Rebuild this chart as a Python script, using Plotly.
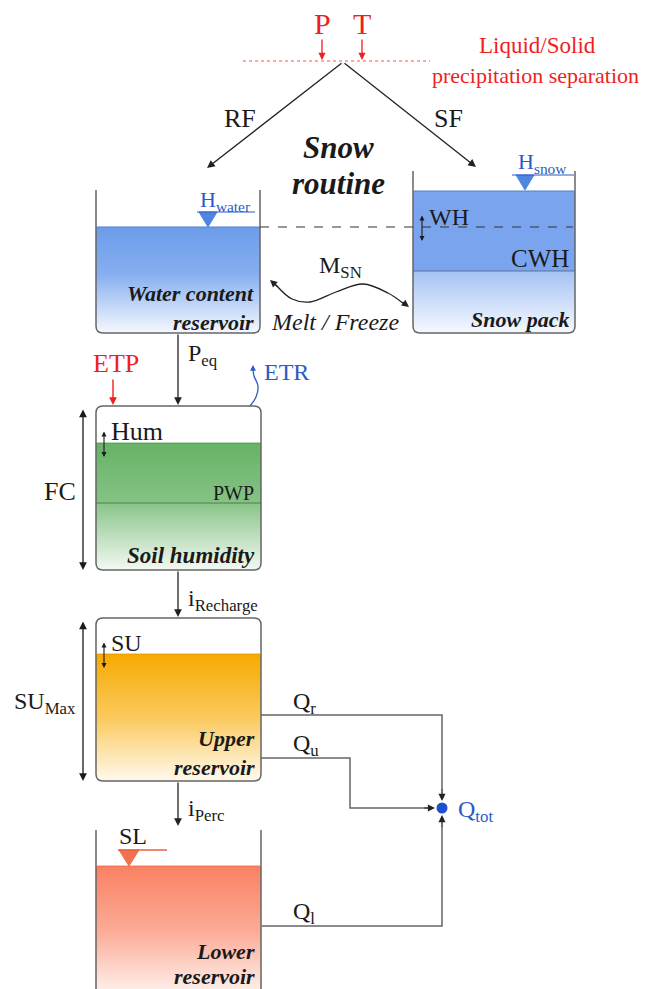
import plotly.graph_objects as go

# ---------------- content (text only) ----------------
forcing_labels = ["P", "T"]
separation_text = ["Liquid/Solid", "precipitation separation"]
phase_labels = ["RF", "SF"]
routine_title = ["Snow", "routine"]
water_names = ["Water content", "reservoir"]
snow_names = ["Snow pack"]
soil_names = ["Soil humidity"]
upper_names = ["Upper", "reservoir"]
lower_names = ["Lower", "reservoir"]
level_labels = ["H<sub>water</sub>", "H<sub>snow</sub>", "WH", "CWH", "Hum", "PWP", "SU", "SL"]
capacity_labels = ["FC", "SU<sub>Max</sub>"]
flux_labels = ["M<sub>SN</sub>", "Melt / Freeze", "P<sub>eq</sub>", "ETP", "ETR",
               "i<sub>Recharge</sub>", "i<sub>Perc</sub>", "Q<sub>r</sub>", "Q<sub>u</sub>",
               "Q<sub>l</sub>", "Q<sub>tot</sub>"]

W, H = 649, 989
OFF = 8  # page body margin
FONT = "Times New Roman"
BLACK = "#1a1a1a"
RED = "#f01e1e"
BLUE = "#2a5bc8"
GREY = "#666666"

fig = go.Figure()
shapes = []


def label(x, y, text, size=24, color=BLACK, xanchor="center", yanchor="middle"):
    fig.add_annotation(x=x, y=y, text=text, showarrow=False, xref="x", yref="y",
                       font=dict(family=FONT, size=size, color=color),
                       xanchor=xanchor, yanchor=yanchor)


def arrow(x, y, ax, ay, color=BLACK, width=1.3, side="end", size=1.1):
    fig.add_annotation(x=x, y=y, ax=ax, ay=ay, xref="x", yref="y", axref="x", ayref="y",
                       text="", showarrow=True, arrowhead=2, arrowsize=size, arrowwidth=width,
                       arrowcolor=color, arrowside=side, startarrowhead=2, startarrowsize=size,
                       standoff=0, startstandoff=0)


def line(x0, y0, x1, y1, color=GREY, width=1.5, dash="solid"):
    shapes.append(dict(type="line", x0=x0, y0=y0, x1=x1, y1=y1, xref="x", yref="y",
                       line=dict(color=color, width=width, dash=dash)))


def path(d, color=GREY, width=1.5, fill=None):
    s = dict(type="path", path=d, xref="x", yref="y", line=dict(color=color, width=width))
    if fill:
        s["fillcolor"] = fill
    shapes.append(s)


def gradient_fill(x0, x1, yt, yb, scale, r=6):
    import math
    xs = [x0, x1]
    ys = [yt, yt]
    for k in range(0, 7):
        a = k / 6 * math.pi / 2
        xs.append(x1 - r + r * math.cos(a))
        ys.append(yb - r + r * math.sin(a))
    for k in range(0, 7):
        a = math.pi / 2 + k / 6 * math.pi / 2
        xs.append(x0 + r + r * math.cos(a))
        ys.append(yb - r + r * math.sin(a))
    xs.append(x0)
    ys.append(yt)
    fig.add_trace(go.Scatter(x=xs, y=ys, mode="lines", fill="toself", line=dict(width=0),
                             fillgradient=dict(type="vertical", colorscale=scale, start=yt, stop=yb),
                             hoverinfo="skip", showlegend=False))


def open_box(x0, x1, yt, yb, r=7):
    path(f"M {x0},{yt} L {x0},{yb - r} Q {x0},{yb} {x0 + r},{yb} L {x1 - r},{yb} "
         f"Q {x1},{yb} {x1},{yb - r} L {x1},{yt}")


def closed_box(x0, x1, yt, yb, r=7):
    path(f"M {x0 + r},{yt} L {x1 - r},{yt} Q {x1},{yt} {x1},{yt + r} L {x1},{yb - r} "
         f"Q {x1},{yb} {x1 - r},{yb} L {x0 + r},{yb} Q {x0},{yb} {x0},{yb - r} "
         f"L {x0},{yt + r} Q {x0},{yt} {x0 + r},{yt} Z")


def level_marker(xc, ytop, color, half=9, depth=15):
    path(f"M {xc - half},{ytop} L {xc + half},{ytop} L {xc},{ytop + depth} Z",
         color=color, width=1, fill=color)


# ---------------- fills ----------------
gradient_fill(96, 260, 227, 333, [[0, "#6c9cea"], [0.45, "#87aff0"], [1, "#f6f9fe"]])
fig.add_trace(go.Scatter(x=[413, 575, 575, 413, 413], y=[191, 191, 271, 271, 191], mode="lines",
                         fill="toself", fillcolor="#7aa5ee", line=dict(width=0),
                         hoverinfo="skip", showlegend=False))
gradient_fill(413, 575, 271, 333, [[0, "#a4c2f4"], [1, "#f6f9fe"]])
gradient_fill(96, 261, 443, 570, [[0, "#66b366"], [0.45, "#84c284"], [1, "#f3f9f3"]])
gradient_fill(96, 261, 654, 781, [[0, "#f6aa00"], [0.5, "#fbc95c"], [1, "#fff9ee"]])
gradient_fill(96, 261, 866, 996, [[0, "#fa8163"], [0.5, "#fbab96"], [1, "#fff4f1"]])

# ---------------- boxes ----------------
open_box(96, 260, 190, 333)
open_box(413, 575, 171, 333)
closed_box(96, 261, 406, 570)
closed_box(96, 261, 618, 781)
open_box(96, 261, 830, 996)

line(96, 227, 260, 227, color="#4f7fd6", width=1)
line(413, 191, 575, 191, color="#4f7fd6", width=1)
line(413, 271, 575, 271, color="#5a6c8a", width=0.9)
line(96, 443, 261, 443, color="#4d944d", width=0.8)
line(96, 503, 261, 503, color="#3f6a3f", width=0.8)
line(96, 654, 261, 654, color="#e09a00", width=0.8)
line(96, 866, 261, 866, color="#e86848", width=0.8)
line(260, 227, 573, 227, color="#333333", width=1.2, dash="dash")

# ---------------- top: separation ----------------
line(243, 61, 430, 61, color="#ff5050", width=1.2, dash="dot")
label(322, 23, forcing_labels[0], size=30, color=RED)
label(362, 23, forcing_labels[1], size=30, color=RED)
arrow(322, 60, 322, 38, color=RED, width=1.3)
arrow(362, 60, 362, 38, color=RED, width=1.3)
label(537, 45, separation_text[0], size=23, color=RED)
label(535, 75, separation_text[1], size=22, color=RED)
arrow(207, 168, 343, 62, color="#222222", width=1.3, size=1.2)
arrow(476, 167, 343, 62, color="#222222", width=1.3, size=1.2)
label(240, 118, phase_labels[0], size=26)
label(448, 118, phase_labels[1], size=26)
label(338, 147, "<b><i>" + routine_title[0] + "</i></b>", size=31)
label(338, 183, "<b><i>" + routine_title[1] + "</i></b>", size=31)

level_marker(208, 212, "#4f86e0")
line(197, 212, 255, 212, color=BLUE, width=1.2)
label(225, 201, level_labels[0], size=22, color=BLUE)
level_marker(525, 175, "#4f86e0")
line(512, 175, 574, 175, color=BLUE, width=1.2)
label(542, 163, level_labels[1], size=22, color=BLUE)

arrow(422, 241, 422, 214, width=1.1, side="end+start", size=0.9)
label(427, 217, level_labels[2], size=24, xanchor="left")
label(571, 258, level_labels[3], size=25, xanchor="right")
label(571, 319, "<b><i>" + snow_names[0] + "</i></b>", size=22, xanchor="right")

label(256, 293, "<b><i>" + water_names[0] + "</i></b>", size=22, xanchor="right")
label(256, 322, "<b><i>" + water_names[1] + "</i></b>", size=22, xanchor="right")

fig.add_trace(go.Scatter(x=[276, 292, 310, 336, 363, 388, 404], y=[285, 299, 302, 292, 284, 293, 304],
                         mode="lines", line=dict(color="#222222", width=1.3, shape="spline"),
                         hoverinfo="skip", showlegend=False))
arrow(270, 280, 279, 288, color="#222222", width=1.3)
arrow(409, 307, 401, 301, color="#222222", width=1.3)
label(340, 267, flux_labels[0], size=24)
label(335, 322, "<i>" + flux_labels[1] + "</i>", size=24)

arrow(178, 405, 178, 333, color="#222222", width=1.3, size=1.2)
label(186, 355, flux_labels[2], size=24, xanchor="left")
label(116, 363, flux_labels[3], size=26, color=RED)
arrow(113, 405, 113, 378, color=RED, width=1.4)
fig.add_trace(go.Scatter(x=[250, 256, 258, 254, 253], y=[406, 397, 386, 376, 370],
                         mode="lines", line=dict(color=BLUE, width=1.3, shape="spline"),
                         hoverinfo="skip", showlegend=False))
arrow(253, 365, 253, 372, color=BLUE, width=1.3, size=0.9)
label(262, 372, flux_labels[4], size=24, color=BLUE, xanchor="left")

arrow(104, 457, 104, 430, width=1.1, side="end+start", size=0.9)
label(109, 431, level_labels[4], size=26, xanchor="left")
label(256, 493, level_labels[5], size=20, xanchor="right")
label(257, 555, "<b><i>" + soil_names[0] + "</i></b>", size=23, xanchor="right")
arrow(83, 570, 83, 408, width=1.3, side="end+start", size=1.2)
label(60, 491, capacity_labels[0], size=26)

arrow(178, 617, 178, 570, color="#222222", width=1.3, size=1.2)
label(186, 600, flux_labels[5], size=24, xanchor="left")

arrow(104, 668, 104, 641, width=1.1, side="end+start", size=0.9)
label(109, 643, level_labels[6], size=24, xanchor="left")
arrow(83, 781, 83, 620, width=1.3, side="end+start", size=1.2)
label(45, 703, capacity_labels[1], size=24)
label(257, 738, "<b><i>" + upper_names[0] + "</i></b>", size=22, xanchor="right")
label(257, 767, "<b><i>" + upper_names[1] + "</i></b>", size=22, xanchor="right")

arrow(178, 826, 178, 781, color="#222222", width=1.3, size=1.2)
label(186, 810, flux_labels[6], size=24, xanchor="left")

level_marker(129, 850, "#f07050", half=10, depth=16)
line(118, 850, 167, 850, color="#e8603f", width=1.3)
label(117, 836, level_labels[7], size=24, xanchor="left")
label(257, 951, "<b><i>" + lower_names[0] + "</i></b>", size=22, xanchor="right")
label(257, 976, "<b><i>" + lower_names[1] + "</i></b>", size=22, xanchor="right")

path("M 261,715 L 442,715 L 442,790", color=GREY, width=1.5)
arrow(442, 801, 442, 788, color="#222222", width=1.3)
path("M 261,758 L 350,758 L 350,808 L 425,808", color=GREY, width=1.5)
arrow(435, 808, 423, 808, color="#222222", width=1.3)
path("M 262,926 L 442,926 L 442,826", color=GREY, width=1.5)
arrow(442, 815, 442, 828, color="#222222", width=1.3)
label(291, 703, flux_labels[7], size=24, xanchor="left")
label(291, 745, flux_labels[8], size=24, xanchor="left")
label(291, 913, flux_labels[9], size=24, xanchor="left")
fig.add_trace(go.Scatter(x=[442], y=[808], mode="markers",
                         marker=dict(size=11, color="#1f4fd0"), hoverinfo="skip", showlegend=False))
label(456, 811, flux_labels[10], size=24, color=BLUE, xanchor="left")

fig.update_layout(
    width=W - OFF, height=H - OFF, margin=dict(l=0, r=0, t=0, b=0),
    paper_bgcolor="white", plot_bgcolor="white",
    font=dict(family=FONT),
    xaxis=dict(range=[OFF, W], visible=False, fixedrange=True),
    yaxis=dict(range=[H, OFF], visible=False, fixedrange=True),
    shapes=shapes, showlegend=False,
)
fig.write_html("out.html")
